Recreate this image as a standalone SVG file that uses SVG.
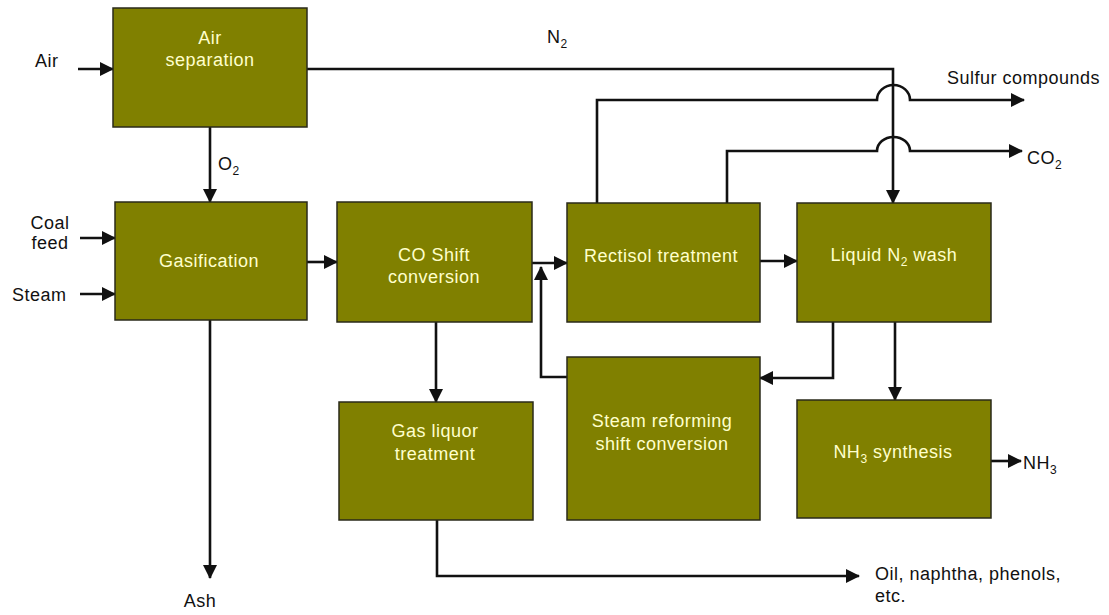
<svg xmlns="http://www.w3.org/2000/svg" width="1109" height="615" viewBox="0 0 1109 615">
<style>
.box{fill:#808000;stroke:#2a2a1a;stroke-width:1.5}
.bt{font-family:"Liberation Sans",Arial,sans-serif;font-size:18px;fill:#ffffcc;text-anchor:middle;letter-spacing:0.5px}
.lt{font-family:"Liberation Sans",Arial,sans-serif;font-size:18px;fill:#111;letter-spacing:0.5px}
.ln{fill:none;stroke:#111;stroke-width:2.6}
.sub{font-size:12px}
</style>
<defs>
<marker id="ah" viewBox="0 0 14 14" refX="13" refY="7" markerWidth="14" markerHeight="14" markerUnits="userSpaceOnUse" orient="auto">
<path d="M0,0 L14,7 L0,14 z" fill="#111"/>
</marker>
</defs>
<rect width="1109" height="615" fill="#fff"/>
<g id="connectors">
<path class="ln" d="M78,69 H113" marker-end="url(#ah)"/>
<path class="ln" d="M210,127 V202" marker-end="url(#ah)"/>
<path class="ln" d="M307,69 H893 V203" marker-end="url(#ah)"/>
<path class="ln" d="M80,238 H115" marker-end="url(#ah)"/>
<path class="ln" d="M80,294 H115" marker-end="url(#ah)"/>
<path class="ln" d="M307,262 H337" marker-end="url(#ah)"/>
<path class="ln" d="M210,320 V578" marker-end="url(#ah)"/>
<path class="ln" d="M532,263 H567" marker-end="url(#ah)"/>
<path class="ln" d="M567,377 H541 V267" marker-end="url(#ah)"/>
<path class="ln" d="M760,261 H797" marker-end="url(#ah)"/>
<path class="ln" d="M436,322 V402" marker-end="url(#ah)"/>
<path class="ln" d="M895,322 V400" marker-end="url(#ah)"/>
<path class="ln" d="M833,322 V378 H760" marker-end="url(#ah)"/>
<path class="ln" d="M991,461 H1021" marker-end="url(#ah)"/>
<path class="ln" d="M437,520 V576 H859" marker-end="url(#ah)"/>
<path class="ln" d="M597,203 V100 H877 A16.5 15 0 0 1 910,100 H1024" marker-end="url(#ah)"/>
<path class="ln" d="M727,203 V151 H877 A16.5 14 0 0 1 910,151 H1022" marker-end="url(#ah)"/>
</g>
<g id="air-separation">
<rect class="box" x="113" y="8" width="194" height="119"/>
<text class="bt" x="210" y="44">Air</text>
<text class="bt" x="210" y="66">separation</text>
</g>
<g id="gasification">
<rect class="box" x="115" y="202" width="192" height="118"/>
<text class="bt" x="209" y="267">Gasification</text>
</g>
<g id="co-shift">
<rect class="box" x="337" y="202" width="195" height="120"/>
<text class="bt" x="434" y="261">CO Shift</text>
<text class="bt" x="434" y="283">conversion</text>
</g>
<g id="rectisol">
<rect class="box" x="567" y="203" width="193" height="119"/>
<text class="bt" x="661" y="262">Rectisol treatment</text>
</g>
<g id="liquid-n2-wash">
<rect class="box" x="797" y="203" width="194" height="119"/>
<text class="bt" x="894" y="261">Liquid N<tspan class="sub" dy="5">2</tspan><tspan dy="-5"> wash</tspan></text>
</g>
<g id="gas-liquor">
<rect class="box" x="339" y="402" width="194" height="118"/>
<text class="bt" x="435" y="437">Gas liquor</text>
<text class="bt" x="435" y="460">treatment</text>
</g>
<g id="steam-reforming">
<rect class="box" x="567" y="357" width="193" height="163"/>
<text class="bt" x="662" y="427">Steam reforming</text>
<text class="bt" x="662" y="450">shift conversion</text>
</g>
<g id="nh3-synthesis">
<rect class="box" x="797" y="400" width="194" height="118"/>
<text class="bt" x="893" y="458">NH<tspan class="sub" dy="5">3</tspan><tspan dy="-5"> synthesis</tspan></text>
</g>
<g id="labels">
<text class="lt" x="35" y="67">Air</text>
<text class="lt" x="50" y="229" text-anchor="middle">Coal</text>
<text class="lt" x="50" y="249" text-anchor="middle">feed</text>
<text class="lt" x="12" y="301">Steam</text>
<text class="lt" x="218" y="170">O<tspan class="sub" dy="5">2</tspan></text>
<text class="lt" x="547" y="43">N<tspan class="sub" dy="5">2</tspan></text>
<text class="lt" x="947" y="84">Sulfur compounds</text>
<text class="lt" x="1027" y="164">CO<tspan class="sub" dy="5">2</tspan></text>
<text class="lt" x="1023" y="469">NH<tspan class="sub" dy="5">3</tspan></text>
<text class="lt" x="875" y="580">Oil, naphtha, phenols,</text>
<text class="lt" x="875" y="602">etc.</text>
<text class="lt" x="200" y="607" text-anchor="middle">Ash</text>
</g>
</svg>
